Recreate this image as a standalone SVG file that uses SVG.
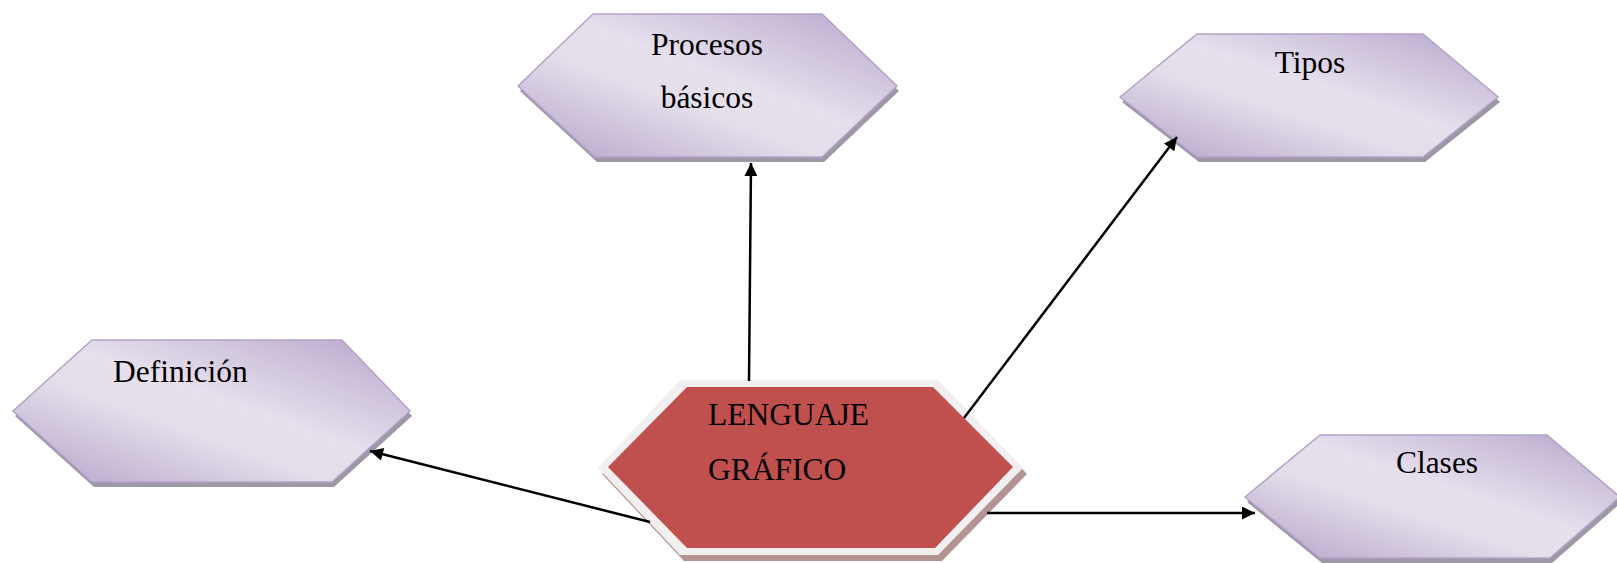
<svg xmlns="http://www.w3.org/2000/svg" width="1617" height="563" viewBox="0 0 1617 563">
<defs>
<linearGradient id="lav" x1="1" y1="0" x2="0" y2="1">
<stop offset="0" stop-color="#b6a5cb"/>
<stop offset="0.45" stop-color="#e6e0ed"/>
<stop offset="0.6" stop-color="#e4deeb"/>
<stop offset="1" stop-color="#b3a1c8"/>
</linearGradient>
<marker id="arr" viewBox="0 0 10 10" refX="10" refY="5" markerUnits="userSpaceOnUse" markerWidth="15" markerHeight="13" orient="auto">
<path d="M0,0 L10,5 L0,10 Z" fill="#000"/>
</marker>
<style>
.hex{fill:url(#lav);stroke:#b3a2c7;stroke-width:1.5}
.sh{fill:#9e97a6}
.txt{font-family:"Liberation Serif","Times New Roman",serif;font-size:31.5px;fill:#000}
.con{stroke:#000;stroke-width:2.5;fill:none;marker-end:url(#arr)}
</style>
</defs>
<rect width="1617" height="563" fill="#fff"/>
<g id="procesos">
<path class="sh" d="M518,86 L593,14 L822,14 L897,86 L822,157 L595,157 Z" transform="translate(2,5)"/>
<path class="hex" d="M518,86 L593,14 L822,14 L897,86 L822,157 L595,157 Z"/>
<text class="txt" x="707" y="55" text-anchor="middle">Procesos</text>
<text class="txt" x="707" y="108" text-anchor="middle">básicos</text>
</g>
<g id="tipos">
<path class="sh" d="M1120,97 L1197,34 L1423,34 L1498,97 L1423,157 L1197,157 Z" transform="translate(2,5)"/>
<path class="hex" d="M1120,97 L1197,34 L1423,34 L1498,97 L1423,157 L1197,157 Z"/>
<text class="txt" x="1310" y="73" text-anchor="middle">Tipos</text>
</g>
<g id="definicion">
<path class="sh" d="M13,411 L92,340 L342,340 L410,411 L332,482 L92,482 Z" transform="translate(2,5)"/>
<path class="hex" d="M13,411 L92,340 L342,340 L410,411 L332,482 L92,482 Z"/>
<text class="txt" x="113" y="382">Definición</text>
</g>
<g id="clases">
<path class="sh" d="M1245,497 L1320,435 L1547,435 L1620,497 L1550,558 L1320,558 Z" transform="translate(2,5)"/>
<path class="hex" d="M1245,497 L1320,435 L1547,435 L1620,497 L1550,558 L1320,558 Z"/>
<text class="txt" x="1437" y="473" text-anchor="middle">Clases</text>
</g>
<g id="lenguaje">
<path fill="#b49492" d="M598,468 L680,380 L938,380 L1023,468 L938,555 L680,555 Z" transform="translate(4,6)"/>
<path fill="#f1efef" d="M598,468 L680,380 L938,380 L1023,468 L938,555 L680,555 Z"/>
<path fill="#c0504d" d="M608,467 L687,387 L933,387 L1013,467 L935,548 L687,548 Z"/>
<text class="txt" x="708" y="425">LENGUAJE</text>
<text class="txt" x="708" y="480">GRÁFICO</text>
</g>
<g id="connectors">
<line class="con" x1="749" y1="381" x2="751" y2="163"/>
<line class="con" x1="964" y1="418" x2="1177" y2="137"/>
<line class="con" x1="987" y1="513" x2="1255" y2="513"/>
<line class="con" x1="650" y1="522" x2="370" y2="451"/>
</g>
</svg>
